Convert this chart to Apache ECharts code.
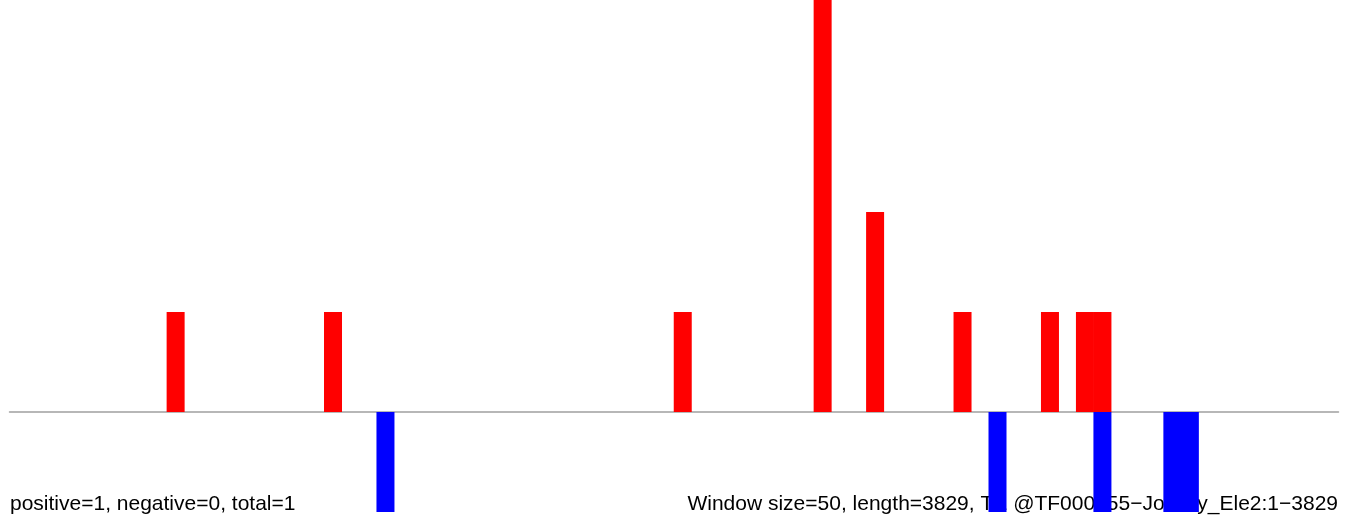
<!DOCTYPE html>
<html>
<head>
<meta charset="utf-8">
<script src="https://cdn.jsdelivr.net/npm/echarts@6/dist/echarts.min.js"></script>
<style>
html,body{margin:0;padding:0;background:#fff;}
#chart{width:1350px;height:523px;}
</style>
</head>
<body>
<div id="chart"></div>
<script>
// Window settings
const windowSize = 50;
const seqLength = 3829;
const binCount = 76;
// Positive (red) windows: bin index and count
const posBins = [9, 18, 38, 46, 49, 54, 59, 61, 62];
const posValues = [1, 1, 1, 5, 2, 1, 1, 1, 1];
// Negative (blue) windows: bin index and count
const negBins = [21, 56, 62, 66, 67];
const negValues = [-1, -1, -1, -1, -1];
// Annotation texts
const leftLabel = 'positive=1, negative=0, total=1';
const rightLabel = 'Window size=50, length=3829, TE @TF000055\u2212Jockey_Ele2:1\u22123829';

const categories = [];
const posData = [];
const negData = [];
for (let i = 0; i < binCount; i++) {
  categories.push(String(i * windowSize + 1));
  posData.push(0);
  negData.push(0);
}
posBins.forEach((b, k) => { posData[b] = posValues[k]; });
negBins.forEach((b, k) => { negData[b] = negValues[k]; });

const chart = echarts.init(document.getElementById('chart'), null, {renderer: 'canvas'});
chart.setOption({
  animation: false,
  backgroundColor: '#ffffff',
  grid: {left: 9.5, right: 11.5, top: 0, bottom: 0, containLabel: false},
  xAxis: {
    type: 'category',
    data: categories,
    boundaryGap: true,
    axisLine: {show: true, onZero: true, lineStyle: {color: '#a0a0a0', width: 1.5}},
    axisTick: {show: false},
    axisLabel: {show: false},
    splitLine: {show: false}
  },
  yAxis: {
    type: 'value',
    min: -1.11,
    max: 4.12,
    show: false,
    splitLine: {show: false}
  },
  graphic: [
    {type: 'text', z: 0, left: 10, top: 494,
     style: {text: leftLabel, fill: '#000', font: '21px "Liberation Sans", Arial, sans-serif'}},
    {type: 'text', z: 0, right: 12, top: 494,
     style: {text: rightLabel, fill: '#000', font: '21px "Liberation Sans", Arial, sans-serif'}}
  ],
  series: [
    {type: 'bar', name: 'positive', data: posData, barWidth: 18, barGap: '-100%',
     itemStyle: {color: '#ff0000'}, clip: true, z: 3},
    {type: 'bar', name: 'negative', data: negData, barWidth: 18, barGap: '-100%',
     itemStyle: {color: '#0000ff'}, clip: true, z: 3}
  ]
});
</script>
</body>
</html>
